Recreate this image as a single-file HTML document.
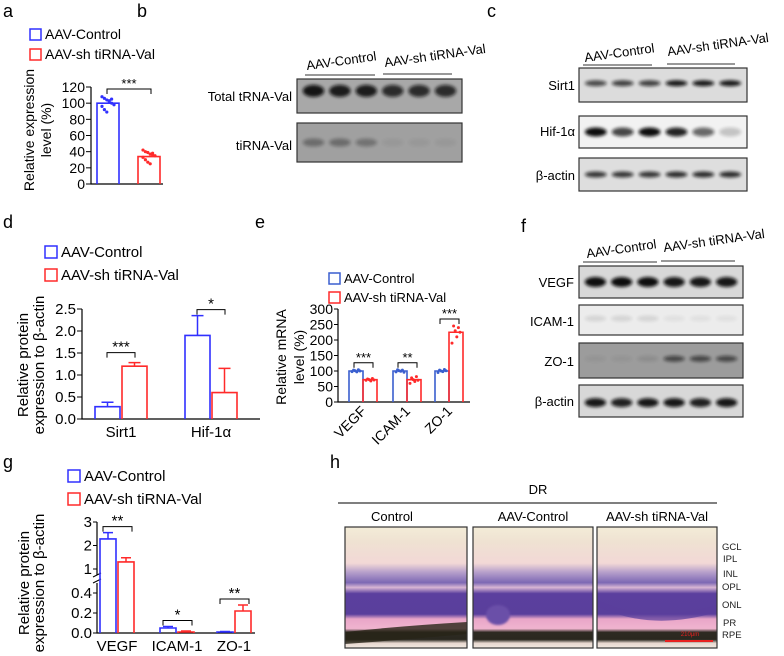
<!DOCTYPE html>
<html><head><meta charset="utf-8">
<style>
html,body{margin:0;padding:0;background:#fff;}
svg{display:block;font-family:"Liberation Sans",Arial,sans-serif;}
</style></head>
<body>
<svg id="fig" width="784" height="656" viewBox="0 0 784 656" xmlns="http://www.w3.org/2000/svg">
<defs>
  <filter id="blur1" x="-20%" y="-50%" width="140%" height="200%"><feGaussianBlur stdDeviation="1.6"/></filter>
  <filter id="blur2"><feGaussianBlur stdDeviation="1"/></filter>
  <linearGradient id="histo" x1="0" y1="0" x2="0" y2="1">
    <stop offset="0" stop-color="#f3ecd8"/>
    <stop offset="0.12" stop-color="#efe2d2"/>
    <stop offset="0.3" stop-color="#f2d8d6"/>
    <stop offset="0.37" stop-color="#b9a2cc"/>
    <stop offset="0.46" stop-color="#7d68b4"/>
    <stop offset="0.5" stop-color="#d9b6d4"/>
    <stop offset="0.55" stop-color="#5b3f9e"/>
    <stop offset="0.72" stop-color="#5a3f9c"/>
    <stop offset="0.76" stop-color="#e9a6c8"/>
    <stop offset="0.84" stop-color="#f0b4cf"/>
    <stop offset="0.87" stop-color="#2d2a22"/>
    <stop offset="0.93" stop-color="#2a2820"/>
    <stop offset="0.96" stop-color="#e8d8d0"/>
    <stop offset="1" stop-color="#f0e8e0"/>
  </linearGradient>
</defs>

<!-- panel letters -->
<g font-size="18" fill="#000">
  <text x="3" y="17">a</text>
  <text x="137" y="17">b</text>
  <text x="487" y="17">c</text>
  <text x="3" y="228">d</text>
  <text x="255" y="228">e</text>
  <text x="521" y="232">f</text>
  <text x="3" y="468">g</text>
  <text x="330" y="468">h</text>
</g>

<!-- panel b blots -->
<g font-size="13">
  <text x="307" y="70" transform="rotate(-8 307 70)">AAV-Control</text>
  <text x="385" y="67" transform="rotate(-8 385 67)">AAV-sh tiRNA-Val</text>
  <line x1="305" y1="75" x2="375" y2="75" stroke="#333" stroke-width="1"/>
  <line x1="383" y1="74" x2="452" y2="74" stroke="#333" stroke-width="1"/>
  <text x="292" y="101" text-anchor="end">Total tRNA-Val</text>
  <text x="292" y="150" text-anchor="end">tiRNA-Val</text>
  <g id="blotB1"></g><g id="blotB2"></g>
</g>

<!-- panel c blots -->
<g font-size="13">
  <text x="585" y="62" transform="rotate(-8 585 62)">AAV-Control</text>
  <text x="668" y="56" transform="rotate(-8 668 56)">AAV-sh tiRNA-Val</text>
  <line x1="583" y1="65" x2="652" y2="65" stroke="#333"/>
  <line x1="667" y1="64" x2="735" y2="64" stroke="#333"/>
  <text x="575" y="90" text-anchor="end">Sirt1</text>
  <text x="575" y="136" text-anchor="end">Hif-1α</text>
  <text x="575" y="180" text-anchor="end">β-actin</text>
  <g id="blotC"></g>
</g>

<!-- panel f blots -->
<g font-size="13">
  <text x="587" y="258" transform="rotate(-8 587 258)">AAV-Control</text>
  <text x="664" y="252" transform="rotate(-8 664 252)">AAV-sh tiRNA-Val</text>
  <line x1="583" y1="262" x2="657" y2="262" stroke="#333"/>
  <line x1="661" y1="261" x2="735" y2="261" stroke="#333"/>
  <text x="574" y="287" text-anchor="end">VEGF</text>
  <text x="574" y="326" text-anchor="end">ICAM-1</text>
  <text x="574" y="366" text-anchor="end">ZO-1</text>
  <text x="574" y="406" text-anchor="end">β-actin</text>
  <g id="blotF"></g>
</g>

<!-- panel h histology -->
<g>
  <text x="538" y="494" font-size="13" text-anchor="middle">DR</text>
  <line x1="338" y1="503" x2="717" y2="503" stroke="#333" stroke-width="1.2"/>
  <text x="392" y="521" font-size="13" text-anchor="middle">Control</text>
  <text x="533" y="521" font-size="13" text-anchor="middle">AAV-Control</text>
  <text x="657" y="521" font-size="13" text-anchor="middle">AAV-sh tiRNA-Val</text>
  <g>
    <rect x="345" y="527" width="122" height="121" fill="url(#histo)"/>
    <path d="M345 632 Q400 626 467 622 L467 634 Q400 640 345 644Z" fill="#282418" opacity="0.8"/>
    <rect x="345" y="527" width="122" height="121" fill="none" stroke="#333" stroke-width="1.2"/>
  </g>
  <g>
    <rect x="473" y="527" width="120" height="121" fill="url(#histo)"/>
    <ellipse cx="498" cy="615" rx="12" ry="10" fill="#6a4fa8" filter="url(#blur2)"/>
    <rect x="473" y="527" width="120" height="121" fill="none" stroke="#333" stroke-width="1.2"/>
  </g>
  <g>
    <rect x="597" y="527" width="120" height="121" fill="url(#histo)"/>
    <path d="M597 600 Q650 625 717 605 L717 612 Q650 632 597 606Z" fill="#5a3f9c" opacity="0.7"/>
    <line x1="665" y1="641" x2="713" y2="641" stroke="#e82020" stroke-width="2"/>
    <text x="690" y="636" font-size="6" fill="#e82020" text-anchor="middle">210μm</text>
    <rect x="597" y="527" width="120" height="121" fill="none" stroke="#333" stroke-width="1.2"/>
  </g>
  <g font-size="9.5" fill="#222">
    <text x="722" y="550">GCL</text><text x="723" y="562">IPL</text>
    <text x="723" y="577">INL</text><text x="722" y="590">OPL</text>
    <text x="722" y="608">ONL</text><text x="723" y="626">PR</text>
    <text x="722" y="638">RPE</text>
  </g>
</g>

<g id="charts"></g>
</svg>

<script>
// ---------- data ----------
const aGroups = ['AAV-Control', 'AAV-sh tiRNA-Val'];
const aMeans = [100, 34];
const aDotsCtrl = [108, 106, 104, 102, 100, 98, 96, 92, 89, 103, 105];
const aDotsSh = [42, 40, 39, 37, 36, 35, 33, 30, 27, 25, 38];
const aTicks = [0, 20, 40, 60, 80, 100, 120];

const dCats = ['Sirt1', 'Hif-1α'];
const dCtrl = [0.28, 1.9];
const dSh = [1.2, 0.6];
const dCtrlErr = [0.1, 0.45];
const dShErr = [0.08, 0.55];
const dTicks = [0, 0.5, 1.0, 1.5, 2.0, 2.5];
const dSig = ['***', '*'];

const eCats = ['VEGF', 'ICAM-1', 'ZO-1'];
const eCtrl = [100, 100, 100];
const eSh = [72, 72, 225];
const eCtrlDots = [[98, 103, 101, 97, 104, 100], [97, 104, 101, 99, 103, 96], [95, 103, 100, 98, 105, 101]];
const eShDots = [[70, 74, 72, 68, 76, 71], [60, 78, 72, 66, 82, 70], [190, 245, 230, 210, 240, 225]];
const eTicks = [0, 50, 100, 150, 200, 250, 300];
const eSig = ['***', '**', '***'];

const gCats = ['VEGF', 'ICAM-1', 'ZO-1'];
const gCtrl = [2.28, 0.05, 0.01];
const gSh = [1.3, 0.01, 0.22];
const gCtrlErr = [0.27, 0.015, 0.005];
const gShErr = [0.18, 0.01, 0.06];
const gTicksLow = [0, 0.2, 0.4];
const gTicksHigh = [1, 2, 3];
const gSig = ['**', '*', '**'];

const BLUE = '#3030ff', RED = '#ff2a2a', EBLUE = '#3a5fcf';
const NS = 'http://www.w3.org/2000/svg';
const root = document.getElementById('charts');

function mk(tag, attrs, parent) {
  const e = document.createElementNS(NS, tag);
  for (const k in attrs) e.setAttribute(k, attrs[k]);
  (parent || root).appendChild(e);
  return e;
}
function tx(s, x, y, size, anchor, parent, extra) {
  const e = mk('text', Object.assign({x: x, y: y, 'font-size': size, 'text-anchor': anchor || 'start'}, extra || {}), parent);
  e.textContent = s;
  return e;
}
function legend(x, y, gap, box, size, col1, col2, parent) {
  const g = mk('g', {}, parent);
  
  
  [[col1, aGroups[0]], [col2, aGroups[1]]].forEach((p, i) => {
    const r = mk('rect', {x: x, y: y + i * gap, width: box, height: box, fill: 'none', stroke: p[0], 'stroke-width': 1.5}, g);
    
    
    const t = tx(p[1], x + box + 4, y + i * gap + box - 1, size, 'start', g);
    
    
  });
}
function ytitle(lines, cx, cy, size, parent) {
  lines.forEach((l, i) => {
    const t = tx(l, 0, 0, size, 'middle', parent, {transform: 'translate(' + (cx[i]) + ',' + cy + ') rotate(-90)'});
    
    
  });
}
function bracket(x1, x2, y, stars, size, parent) {
  const p = mk('path', {d: 'M' + x1 + ' ' + (y + 5) + 'V' + y + 'H' + x2 + 'V' + (y + 5), fill: 'none', stroke: '#000', 'stroke-width': 1}, parent);
  
  
  const t = tx(stars, (x1 + x2) / 2, y - 1, size, 'middle', parent);
  
  
}
function bar(x, w, y0, y1, col, parent) {
  const r = mk('path', {d: 'M' + x + ' ' + y0 + 'V' + y1 + 'H' + (x + w) + 'V' + y0, fill: 'none', stroke: col, 'stroke-width': 1.6}, parent);
  
  
  return r;
}
function errbar(cx, yTop, yMean, col, parent, capw) {
  const e = mk('path', {d: 'M' + cx + ' ' + yMean + 'V' + yTop + 'M' + (cx - capw) + ' ' + yTop + 'H' + (cx + capw), stroke: col, 'stroke-width': 1.5, fill: 'none'}, parent);
  
  
}

// ---------- panel a ----------
(function () {
  const g = mk('g', {});
  
  
  const y = v => 184 - v * (97 / 120);
  legend(30, 29, 20, 11, 14, BLUE, RED, g);
  ytitle(['Relative expression', 'level (%)'], [34, 51], 130, 14, g);
  mk('path', {d: 'M91 ' + y(120) + 'V184H163', stroke: '#000', fill: 'none', 'stroke-width': 1.2}, g);
  aTicks.forEach(t => {
    mk('line', {x1: 86, x2: 91, y1: y(t), y2: y(t), stroke: '#000'}, g);
    const l = tx(String(t), 85, y(t) + 5, 14, 'end', g);
    
    
  });
  const xs = [97, 138], w = 22, cols = [BLUE, RED], dots = [aDotsCtrl, aDotsSh];
  aMeans.forEach((m, i) => {
    bar(xs[i], w, 184, y(m), cols[i], g);
    dots[i].forEach((d, j) => {
      const c = mk('circle', {cx: xs[i] + 5 + (j % 6) * 2.4, cy: y(d), r: 1.6, fill: cols[i]}, g);
      
      
    });
  });
  bracket(107, 151, 89, '***', 13, g);
})();

// ---------- panel d ----------
(function () {
  const g = mk('g', {});
  
  
  const y = v => 419 - v * 44;
  legend(45, 246, 23, 12, 15, BLUE, RED, g);
  ytitle(['Relative protein', 'expression to β-actin'], [28, 44], 365, 15, g);
  mk('path', {d: 'M82 ' + y(2.5) + 'V419H260', stroke: '#000', fill: 'none', 'stroke-width': 1.2}, g);
  dTicks.forEach(t => {
    mk('line', {x1: 77, x2: 82, y1: y(t), y2: y(t), stroke: '#000'}, g);
    const l = tx(t.toFixed(1), 76, y(t) + 5, 15, 'end', g);
    
    
  });
  const cx = [121, 211], w = 25;
  dCats.forEach((c, i) => {
    bar(cx[i] - w - 1, w, 419, y(dCtrl[i]), BLUE, g);
    errbar(cx[i] - w / 2 - 1, y(dCtrl[i] + dCtrlErr[i]), y(dCtrl[i]), BLUE, g, 6);
    bar(cx[i] + 1, w, 419, y(dSh[i]), RED, g);
    errbar(cx[i] + w / 2 + 1, y(dSh[i] + dShErr[i]), y(dSh[i]), RED, g, 6);
    const l = tx(c, cx[i], 437, 15, 'middle', g);
    
    
    const top = Math.max(dCtrl[i] + dCtrlErr[i], dSh[i] + dShErr[i]);
    bracket(cx[i] - 14, cx[i] + 14, y(top) - 6 - (i === 1 ? 0 : 4), dSig[i], 15, g);
  });
})();

// ---------- panel e ----------
(function () {
  const g = mk('g', {});
  
  
  const y = v => 402 - v * (93 / 300);
  legend(329, 273, 19, 11, 13, EBLUE, RED, g);
  ytitle(['Relative mRNA', 'level (%)'], [286, 304], 357, 14, g);
  mk('path', {d: 'M338 ' + y(300) + 'V402H470', stroke: '#000', fill: 'none', 'stroke-width': 1.2}, g);
  eTicks.forEach(t => {
    mk('line', {x1: 334, x2: 338, y1: y(t), y2: y(t), stroke: '#000'}, g);
    const l = tx(String(t), 333, y(t) + 5, 14, 'end', g);
    
    
  });
  const cx = [363, 407, 449], w = 14;
  eCats.forEach((c, i) => {
    bar(cx[i] - w, w, 402, y(eCtrl[i]), EBLUE, g);
    bar(cx[i], w, 402, y(eSh[i]), RED, g);
    eCtrlDots[i].forEach((d, j) => {
      const p = mk('circle', {cx: cx[i] - w + 3 + j * 1.6, cy: y(d), r: 1.5, fill: EBLUE}, g);
      
      
    });
    eShDots[i].forEach((d, j) => {
      const p = mk('circle', {cx: cx[i] + 3 + j * 1.6, cy: y(d), r: 1.5, fill: RED}, g);
      
      
    });
    const l = tx(c, cx[i] + 4, 412, 14, 'end', g, {transform: 'rotate(-45 ' + (cx[i] + 4) + ' 412)'});
    
    
    const top = Math.max(...eCtrlDots[i], ...eShDots[i]);
    bracket(cx[i] - 9, cx[i] + 10, y(top) - 7, eSig[i], 13, g);
  });
})();

// ---------- panel g ----------
(function () {
  const g = mk('g', {});
  
  
  const y = v => v <= 0.6 ? 633 - v * 100 : 569 - (v - 1) * 23.5;
  legend(68, 470, 23, 12, 15, BLUE, RED, g);
  ytitle(['Relative protein', 'expression to β-actin'], [29, 44], 583, 15, g);
  mk('path', {d: 'M97 ' + y(0.5) + 'V633H255', stroke: '#000', fill: 'none', 'stroke-width': 1.2}, g);
  mk('path', {d: 'M97 ' + y(3) + 'V575', stroke: '#000', fill: 'none', 'stroke-width': 1.2}, g);
  mk('path', {d: 'M93 577 L101 573 M93 583 L101 579', stroke: '#000', fill: 'none'}, g);
  gTicksLow.forEach(t => {
    mk('line', {x1: 93, x2: 97, y1: y(t), y2: y(t), stroke: '#000'}, g);
    const l = tx(t.toFixed(1), 92, y(t) + 5, 15, 'end', g);
    
    
  });
  gTicksHigh.forEach(t => {
    mk('line', {x1: 93, x2: 97, y1: y(t), y2: y(t), stroke: '#000'}, g);
    const l = tx(String(t), 92, y(t) + 5, 15, 'end', g);
    
    
  });
  const cx = [117, 177, 234], w = 16;
  gCats.forEach((c, i) => {
    bar(cx[i] - w - 1, w, 633, y(gCtrl[i]), BLUE, g);
    errbar(cx[i] - w / 2 - 1, y(gCtrl[i] + gCtrlErr[i]), y(gCtrl[i]), BLUE, g, 5);
    bar(cx[i] + 1, w, 633, y(gSh[i]), RED, g);
    errbar(cx[i] + w / 2 + 1, y(gSh[i] + gShErr[i]), y(gSh[i]), RED, g, 5);
    const l = tx(c, cx[i], 651, 15, 'middle', g);
    
    
    const top = Math.max(gCtrl[i] + gCtrlErr[i], gSh[i] + gShErr[i]);
    bracket(cx[i] - 14, cx[i] + 15, y(top) - 6, gSig[i], 15, g);
  });
})();

// ---------- blots ----------
const laneX6 = [0.1, 0.26, 0.42, 0.58, 0.74, 0.9];
function blot(parentId, name, x, y, w, h, bg, bands, bandH, bandY) {
  const g = document.getElementById(parentId);
  const b = mk('g', {}, g);
  
  
  mk('rect', {x: x, y: y, width: w, height: h, fill: bg, stroke: '#333', 'stroke-width': 1.2}, b);
  bands.forEach((a, i) => {
    if (a <= 0) return;
    const e = mk('ellipse', {cx: x + laneX6[i] * w, cy: y + (bandY || 0.5) * h, rx: w * 0.065, ry: bandH, fill: '#111', opacity: a, filter: 'url(#blur1)'}, b);
    
    
  });
}
blot('blotB1', 'blot-total-trna', 297, 79, 165, 34, '#a8a8a8', [0.95, 0.9, 0.9, 0.8, 0.8, 0.8], 6, 0.35);
blot('blotB2', 'blot-tirna', 297, 123, 165, 39, '#a0a0a0', [0.35, 0.35, 0.3, 0.05, 0.05, 0.05], 4, 0.5);
blot('blotC', 'blot-sirt1', 579, 68, 168, 34, '#dcdcdc', [0.7, 0.75, 0.75, 0.95, 0.95, 0.95], 3, 0.45);
blot('blotC', 'blot-hif', 579, 116, 168, 32, '#f2f2f2', [1, 0.75, 1, 0.9, 0.6, 0.2], 4.5, 0.5);
blot('blotC', 'blot-actin-c', 579, 158, 168, 33, '#dedede', [0.8, 0.8, 0.8, 0.85, 0.85, 0.85], 3, 0.5);
blot('blotF', 'blot-vegf', 579, 266, 164, 32, '#d8d8d8', [1, 1, 1, 0.95, 0.95, 0.95], 5, 0.5);
blot('blotF', 'blot-icam', 579, 305, 164, 30, '#ececec', [0.1, 0.1, 0.1, 0.05, 0.05, 0.05], 3, 0.45);
blot('blotF', 'blot-zo1', 579, 343, 164, 35, '#9c9c9c', [0.05, 0.05, 0.1, 0.6, 0.6, 0.6], 3, 0.45);
blot('blotF', 'blot-actin-f', 579, 385, 164, 32, '#d8d8d8', [0.95, 0.9, 0.95, 0.95, 0.9, 0.95], 4.5, 0.55);
</script>
</body></html>
